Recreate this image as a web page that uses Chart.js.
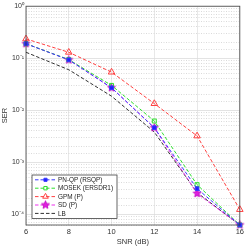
<!DOCTYPE html>
<html>
<head>
<meta charset="utf-8">
<script src="https://cdn.jsdelivr.net/npm/chart.js@4.4.0/dist/chart.umd.min.js"></script>
<style>
  html, body { margin: 0; padding: 0; background: #fff; }
  #wrap { width: 246px; height: 246px; }
</style>
</head>
<body>
<div id="wrap"><canvas id="myChart" width="246" height="246"></canvas></div>
<script>
// data
const snr = [6, 8, 10, 12, 14, 16];
const pnqp = [0.19, 0.093, 0.027, 0.0046, 3.1e-4, 6.2e-5];
const mosek = [0.19, 0.094, 0.030, 0.0062, 3.7e-4, 6.2e-5];
const gpm = [0.235, 0.13, 0.054, 0.0134, 0.0032, 1.23e-4];
const sd = [0.19, 0.093, 0.027, 0.0046, 2.5e-4, 6.2e-5];
const lb = [0.13, 0.06, 0.0186, 0.0038, 2.6e-4, 6.2e-5];
const xTicks = [6, 8, 10, 12, 14, 16];
const yMin = 6.2e-5;
const yMax = 1;

const sup = { '-': '\u207B', '0': '\u2070', '1': '\u00B9', '2': '\u00B2', '3': '\u00B3', '4': '\u2074' };

function pentagram(fill, stroke, r) {
    const c = document.createElement('canvas');
    const s = Math.ceil(r * 2 + 2);
    c.width = s; c.height = s;
    const g = c.getContext('2d');
    g.beginPath();
    for (let i = 0; i < 10; i++) {
        const rad = i % 2 === 0 ? r : r * 0.45;
        const a = -Math.PI / 2 + i * Math.PI / 5;
        const px = s / 2 + rad * Math.cos(a), py = s / 2 + rad * Math.sin(a);
        if (i === 0) g.moveTo(px, py); else g.lineTo(px, py);
    }
    g.closePath();
    g.fillStyle = fill; g.fill();
    g.strokeStyle = stroke; g.lineWidth = 0.8; g.stroke();
    return c;
}

const starImg = pentagram('#e020e0', '#c000c0', 4.2);

const series = [
    { label: 'PN-QP (RSQP)', values: pnqp, color: '#3a3aff', style: 'rect', fill: '#2020ff', r: 2.6 },
    { label: 'MOSEK (ERSDR1)', values: mosek, color: '#2ee02e', style: 'rect', fill: 'rgba(0,0,0,0)', r: 2.8 },
    { label: 'GPM (P)', values: gpm, color: '#ff4040', style: 'triangle', fill: 'rgba(0,0,0,0)', r: 3.8 },
    { label: 'SD (P)', values: sd, color: '#ee30ee', style: starImg, fill: '#e020e0', r: 4 },
    { label: 'LB', values: lb, color: '#303030', style: false, fill: '#303030', r: 0 }
];

const datasets = series.map(s => ({
    label: s.label,
    data: snr.map((x, i) => ({ x: x, y: s.values[i] })),
    borderColor: s.color,
    backgroundColor: s.fill,
    borderWidth: 1,
    borderDash: [3.5, 2],
    pointStyle: s.style,
    pointRadius: s.r,
    pointBorderColor: s.color,
    pointBackgroundColor: s.fill,
    pointBorderWidth: 1,
    tension: 0,
    clip: false
}));

// box round the axes + legend drawn inside the plot
const boxAndLegend = {
    id: 'boxAndLegend',
    afterDatasetsDraw(chart) {
        const g = chart.ctx;
        const a = chart.chartArea;
        g.save();
        g.strokeStyle = '#404040';
        g.lineWidth = 0.8;
        g.strokeRect(a.left, a.top, a.right - a.left, a.bottom - a.top);

        const bx = 32, by = 175, bw = 85, bh = 43.5;
        g.fillStyle = '#fff';
        g.fillRect(bx, by, bw, bh);
        g.strokeRect(bx, by, bw, bh);
        g.font = '6.4px "Liberation Sans", Arial, sans-serif';
        g.textBaseline = 'middle';
        series.forEach((s, i) => {
            const y = by + 4.8 + i * 8.4;
            g.strokeStyle = s.color;
            g.lineWidth = 1;
            g.setLineDash([3.5, 2]);
            g.beginPath();
            g.moveTo(35, y); g.lineTo(55, y);
            g.stroke();
            g.setLineDash([]);
            if (s.style) {
                g.fillStyle = s.fill;
                g.strokeStyle = s.color;
                Chart.helpers.drawPoint(g, { pointStyle: s.style, radius: s.r * 0.85, borderWidth: 1, rotation: 0 }, 45.5, y);
            }
            g.fillStyle = '#222';
            g.fillText(s.label, 58, y + 0.5);
        });
        g.restore();
    }
};

const ctx = document.getElementById('myChart').getContext('2d');
Chart.defaults.font.family = '"Liberation Sans", Arial, sans-serif';
Chart.defaults.color = '#333';

new Chart(ctx, {
    type: 'line',
    data: { datasets: datasets },
    options: {
        responsive: false,
        animation: false,
        layout: { padding: { top: 4, right: 4, left: 0, bottom: 0 } },
        plugins: { legend: { display: false }, tooltip: { enabled: false } },
        scales: {
            x: {
                type: 'linear',
                min: 6,
                max: 16,
                afterBuildTicks: (scale) => { scale.ticks = xTicks.map(v => ({ value: v })); },
                ticks: { font: { size: 7.5 }, padding: 2, color: '#333' },
                grid: { color: '#e2e2e2', lineWidth: 0.8, drawTicks: false },
                border: { display: false },
                title: { display: true, text: 'SNR (dB)', font: { size: 7.5 }, padding: { top: 1, bottom: 0 }, color: '#333' },
                afterFit: (scale) => { scale.height = 21; }
            },
            y: {
                type: 'logarithmic',
                min: yMin,
                max: yMax,
                ticks: {
                    autoSkip: false,
                    font: { size: 7 },
                    padding: 2,
                    color: '#333',
                    callback: function (value) {
                        const e = Math.log10(value);
                        if (Math.abs(e - Math.round(e)) > 1e-6) return '';
                        const s = String(Math.round(e)).split('').map(ch => sup[ch]).join('');
                        return '10' + s;
                    }
                },
                grid: {
                    drawTicks: false,
                    lineWidth: 0.8,
                    color: (c) => {
                        const v = c.tick ? c.tick.value : 1;
                        const e = Math.log10(v);
                        return Math.abs(e - Math.round(e)) < 1e-6 ? '#dcdcdc' : '#d0d0d0';
                    }
                },
                border: {
                    display: false,
                    dash: (c) => {
                        const v = c.tick ? c.tick.value : 1;
                        const e = Math.log10(v);
                        return Math.abs(e - Math.round(e)) < 1e-6 ? [] : [1, 1.5];
                    }
                },
                title: { display: true, text: 'SER', font: { size: 7.5 }, padding: { top: 0, bottom: 1 }, color: '#333' },
                afterFit: (scale) => { scale.width = 26; }
            }
        }
    },
    plugins: [boxAndLegend]
});
</script>
</body>
</html>
